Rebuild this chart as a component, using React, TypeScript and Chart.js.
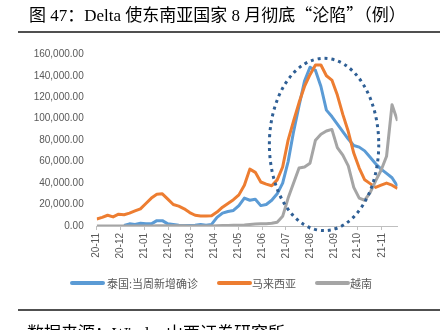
import React, { useEffect, useRef } from "react";
import { Chart, registerables } from "chart.js";

Chart.register(...registerables);

const weeks = [
  "2020-11-01", "2020-11-08", "2020-11-15", "2020-11-22", "2020-11-29",
  "2020-12-06", "2020-12-13", "2020-12-20", "2020-12-27",
  "2021-01-03", "2021-01-10", "2021-01-17", "2021-01-24", "2021-01-31",
  "2021-02-07", "2021-02-14", "2021-02-21", "2021-02-28",
  "2021-03-07", "2021-03-14", "2021-03-21", "2021-03-28",
  "2021-04-04", "2021-04-11", "2021-04-18", "2021-04-25",
  "2021-05-02", "2021-05-09", "2021-05-16", "2021-05-23", "2021-05-30",
  "2021-06-06", "2021-06-13", "2021-06-20", "2021-06-27",
  "2021-07-04", "2021-07-11", "2021-07-18", "2021-07-25",
  "2021-08-01", "2021-08-08", "2021-08-15", "2021-08-22", "2021-08-29",
  "2021-09-05", "2021-09-12", "2021-09-19", "2021-09-26",
  "2021-10-03", "2021-10-10", "2021-10-17", "2021-10-24", "2021-10-31",
  "2021-11-07", "2021-11-14", "2021-11-21",
];

const thailand = [
  null, null, null, null, null,
  500, 2000, 1500, 2500,
  2000, 2000, 5000, 5000, 2000,
  1500, 800, 500, 500,
  800, 1500, 800, 1500,
  8000, 12000, 13500, 14500,
  19000, 26000, 24000, 25000, 19000,
  20000, 24000, 30000, 40000,
  60000, 88000, 112000, 135000,
  148000, 145000, 130000, 108000, 102000,
  95000, 88000, 81000, 75000,
  73500, 70000, 64000, 58000, 53000,
  49000, 45000, 37000,
];

const malaysia = [
  6500, 8000, 10000, 8500, 11000,
  10500, 12000, 14000, 16000,
  21000, 26000, 29500, 30000, 25000,
  20000, 18500, 16000, 12500,
  10000, 9300, 9300, 9500,
  13000, 17500, 21000, 24500,
  29000, 38000, 53000, 50000, 41000,
  39000, 37500, 43000, 55000,
  80000, 98000, 115000, 130000,
  141000, 150000, 150000, 140000, 136000,
  122000, 104000, 88000, 68000,
  54000, 43000, 39500, 36000, 38000,
  40000, 38000, 35000,
];

const vietnam = [
  100, 100, 100, 100, 100,
  100, 100, 100, 100,
  100, 100, 200, 300, 300,
  300, 200, 200, 100,
  100, 100, 100, 100,
  300, 400, 500, 600,
  800, 1000, 1500, 1800, 2000,
  2200, 2500, 3500, 9000,
  26000, 40000, 54000, 55000,
  58500, 80000, 85500, 88500, 90000,
  73000, 66000, 56000, 36000,
  26000, 24000, 31000, 42000, 52000,
  65000, 113000, 98000,
];

const monthTicks = [
  "2020-11-01", "2020-12-01", "2021-01-01", "2021-02-01", "2021-03-01",
  "2021-04-01", "2021-05-01", "2021-06-01", "2021-07-01", "2021-08-01",
  "2021-09-01", "2021-10-01", "2021-11-01",
];
const monthLabels = [
  "20-11", "20-12", "21-01", "21-02", "21-03", "21-04", "21-05",
  "21-06", "21-07", "21-08", "21-09", "21-10", "21-11",
];

const seriesNames = ["泰国:当周新增确诊", "马来西亚", "越南"];
const seriesColors = ["#5B9BD5", "#ED7D31", "#A5A5A5"];

// Dotted ellipse annotation (in data units)
const ellipseCenterDate = "2021-08-19";
const ellipseCenterValue = 76000;
const ellipseHalfDays = 70;
const ellipseHalfValue = 80300;

const DAY = 86400000;
const startMs = Date.parse(weeks[0]);
const dayOf = (d: string) => (Date.parse(d) - startMs) / DAY;

const fmt = (v: number) =>
  Number(v).toLocaleString("en-US", { minimumFractionDigits: 2, maximumFractionDigits: 2 });

const ellipsePlugin = {
  id: "ellipseNote",
  afterDatasetsDraw(chart: any) {
    const xs = chart.scales.x;
    const ys = chart.scales.y;
    const cDay = dayOf(ellipseCenterDate);
    const cx = xs.getPixelForValue(cDay);
    const cy = ys.getPixelForValue(ellipseCenterValue);
    const rx = Math.abs(xs.getPixelForValue(cDay + ellipseHalfDays) - cx);
    const ry = Math.abs(ys.getPixelForValue(ellipseCenterValue + ellipseHalfValue) - cy);
    const ctx = chart.ctx;
    ctx.save();
    ctx.beginPath();
    ctx.ellipse(cx, cy, rx, ry, 0, 0, Math.PI * 2);
    ctx.strokeStyle = "#2F5F95";
    ctx.lineWidth = 3;
    ctx.setLineDash([3, 4]);
    ctx.lineCap = "butt";
    ctx.stroke();
    ctx.restore();
  },
};

const CJK = "'Noto Sans CJK SC', sans-serif";

export default function App() {
  const ref = useRef<HTMLCanvasElement | null>(null);

  useEffect(() => {
    document.body.style.margin = "0";
    const canvas = ref.current;
    if (!canvas) return;
    const series = [thailand, malaysia, vietnam];
    const chart = new Chart(canvas, {
      type: "line",
      data: {
        datasets: series.map((vals, k) => ({
          label: seriesNames[k],
          data: vals.map((v, i) => ({ x: dayOf(weeks[i]), y: v })),
          borderColor: seriesColors[k],
          backgroundColor: seriesColors[k],
          borderWidth: 3,
          pointRadius: 0,
          tension: 0,
          borderJoinStyle: "round",
          spanGaps: false,
          order: 3 - k,
        })),
      },
      options: {
        animation: false,
        responsive: false,
        devicePixelRatio: 1,
        layout: { padding: { top: 54.3, left: 0, right: 42.5, bottom: 0 } },
        plugins: {
          legend: { display: false },
          tooltip: { enabled: false },
          title: { display: false },
        },
        scales: {
          x: {
            type: "linear",
            min: 0,
            max: dayOf(weeks[weeks.length - 1]),
            grid: {
              display: true,
              drawOnChartArea: false,
              drawTicks: true,
              tickLength: 4,
              color: "#BFBFBF",
            },
            border: { display: true, color: "#BFBFBF", width: 1 },
            ticks: {
              autoSkip: false,
              minRotation: 90,
              maxRotation: 90,
              padding: 3,
              color: "#595959",
              font: { size: 10, family: "'Liberation Sans', 'Noto Sans CJK SC', sans-serif" },
              callback: (_v: any, i: number) => monthLabels[i],
            },
            afterBuildTicks: (scale: any) => {
              scale.ticks = monthTicks.map((d) => ({ value: dayOf(d) }));
            },
            afterFit: (scale: any) => {
              scale.height = 104;
            },
          },
          y: {
            min: 0,
            max: 160000,
            grid: { display: false, drawTicks: false },
            border: { display: false },
            ticks: {
              stepSize: 20000,
              padding: 13,
              color: "#595959",
              font: { size: 10, family: "'Liberation Sans', 'Noto Sans CJK SC', sans-serif" },
              callback: (v: any) => fmt(v),
            },
            afterFit: (scale: any) => {
              scale.width = 96.7;
            },
          },
        },
      },
      plugins: [ellipsePlugin],
    } as any);
    return () => chart.destroy();
  }, []);

  const legendItems = [
    { line: 70, text: 107 },
    { line: 217, text: 252 },
    { line: 315, text: 350 },
  ];

  return (
    <div style={{ position: "absolute", left: 0, top: 0, width: 440, height: 330, overflow: "hidden", background: "#fff" }}>
      <canvas ref={ref} width={440} height={330} style={{ position: "absolute", left: 0, top: 0, width: 440, height: 330 }} />
      <div
        style={{
          position: "absolute",
          left: 29,
          top: 5,
          fontSize: 17,
          lineHeight: "17px",
          whiteSpace: "nowrap",
          color: "#000",
          fontFamily: "'Liberation Serif', 'Noto Sans CJK SC', serif",
        }}
      >
        图 47：Delta 使东南亚国家 8 月彻底<span style={{ fontFamily: CJK }}>“沦陷”</span>
        <span style={{ fontFamily: CJK }}>（例）</span>
      </div>
      <div style={{ position: "absolute", left: 18, top: 30.5, width: 422, height: 2, background: "#505050" }} />
      {legendItems.map((it, k) => (
        <React.Fragment key={k}>
          <div
            style={{
              position: "absolute",
              left: it.line,
              top: 281,
              width: 35,
              height: 4,
              background: seriesColors[k],
              borderRadius: 2,
            }}
          />
          <div
            style={{
              position: "absolute",
              left: it.text,
              top: 276,
              fontSize: 11,
              lineHeight: "14px",
              whiteSpace: "nowrap",
              color: "#595959",
              fontFamily: CJK,
            }}
          >
            {seriesNames[k]}
          </div>
        </React.Fragment>
      ))}
      <div style={{ position: "absolute", left: 18, top: 308.5, width: 422, height: 2, background: "#505050" }} />
      <div
        style={{
          position: "absolute",
          left: 27,
          top: 324.5,
          fontSize: 17,
          lineHeight: "17px",
          whiteSpace: "nowrap",
          color: "#000",
          fontFamily: "'Liberation Serif', 'Noto Sans CJK SC', serif",
        }}
      >
        数据来源：Wind，山西证券研究所
      </div>
    </div>
  );
}
